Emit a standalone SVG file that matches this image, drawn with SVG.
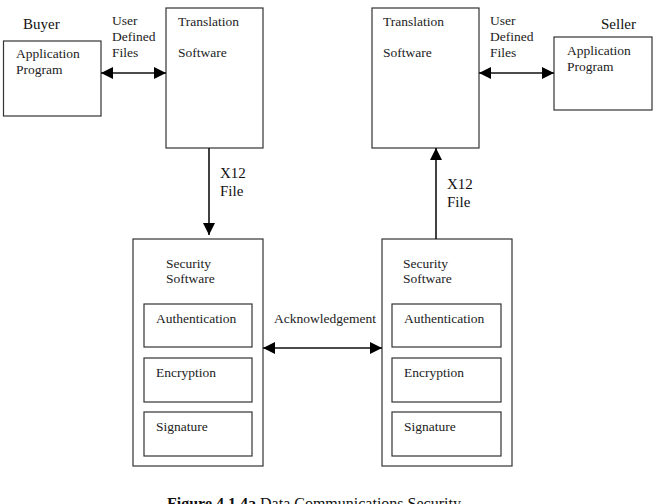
<svg xmlns="http://www.w3.org/2000/svg" width="660" height="504" viewBox="0 0 660 504">
<style>
.box{fill:#fff;stroke:#333;stroke-width:1.2}
.t{font-family:"Liberation Serif","Times New Roman",serif;font-size:13.5px;fill:#222}
.tl{font-family:"Liberation Serif","Times New Roman",serif;font-size:15px;fill:#111}
.c{stroke:#111;stroke-width:1.6;fill:none}
</style>
<defs>
<marker id="ah" viewBox="0 0 12 12" refX="12" refY="6" markerWidth="12" markerHeight="12" markerUnits="userSpaceOnUse" orient="auto-start-reverse">
<path d="M0,0 L12,6 L0,12 Z" fill="#000"/>
</marker>
</defs>
<rect width="660" height="504" fill="#fff"/>
<text class="tl" x="23" y="29">Buyer</text>
<text class="tl" x="601" y="29">Seller</text>
<g id="buyer-app">
<rect class="box" x="3.5" y="41" width="97.5" height="75"/>
<text class="t" x="16" y="58">Application</text>
<text class="t" x="16" y="74">Program</text>
</g>
<g id="buyer-translation">
<rect class="box" x="166" y="8" width="97" height="140"/>
<text class="t" x="178" y="26">Translation</text>
<text class="t" x="178" y="57">Software</text>
</g>
<g id="seller-translation">
<rect class="box" x="372" y="8" width="107" height="140"/>
<text class="t" x="383" y="26">Translation</text>
<text class="t" x="383" y="57">Software</text>
</g>
<g id="seller-app">
<rect class="box" x="554" y="37" width="98" height="73"/>
<text class="t" x="567" y="55">Application</text>
<text class="t" x="567" y="71">Program</text>
</g>
<g id="buyer-security">
<rect class="box" x="133" y="239" width="130" height="227"/>
<text class="t" x="166" y="268">Security</text>
<text class="t" x="166" y="283">Software</text>
<g id="buyer-auth"><rect class="box" x="144" y="304" width="108" height="43"/><text class="t" x="156" y="323">Authentication</text></g>
<g id="buyer-enc"><rect class="box" x="144" y="358" width="108" height="44"/><text class="t" x="156" y="377">Encryption</text></g>
<g id="buyer-sig"><rect class="box" x="144" y="412" width="108" height="44"/><text class="t" x="156" y="431">Signature</text></g>
</g>
<g id="seller-security">
<rect class="box" x="382" y="239" width="130" height="227"/>
<text class="t" x="403" y="268">Security</text>
<text class="t" x="403" y="283">Software</text>
<g id="seller-auth"><rect class="box" x="392" y="304" width="109" height="43"/><text class="t" x="404" y="323">Authentication</text></g>
<g id="seller-enc"><rect class="box" x="392" y="358" width="109" height="44"/><text class="t" x="404" y="377">Encryption</text></g>
<g id="seller-sig"><rect class="box" x="392" y="412" width="109" height="44"/><text class="t" x="404" y="431">Signature</text></g>
</g>
<g id="connectors">
<line class="c" x1="101" y1="73" x2="166" y2="73" marker-start="url(#ah)" marker-end="url(#ah)"/>
<line class="c" x1="479" y1="73" x2="554" y2="73" marker-start="url(#ah)" marker-end="url(#ah)"/>
<line class="c" x1="209" y1="148" x2="209" y2="235" marker-end="url(#ah)"/>
<line class="c" x1="436" y1="239" x2="436" y2="148" marker-end="url(#ah)"/>
<line class="c" x1="263" y1="348" x2="382" y2="348" marker-start="url(#ah)" marker-end="url(#ah)"/>
<text class="t" x="112" y="25">User</text>
<text class="t" x="112" y="41">Defined</text>
<text class="t" x="112" y="57">Files</text>
<text class="t" x="490" y="25">User</text>
<text class="t" x="490" y="41">Defined</text>
<text class="t" x="490" y="57">Files</text>
<text class="tl" x="220" y="178">X12</text>
<text class="tl" x="220" y="196">File</text>
<text class="tl" x="447" y="189">X12</text>
<text class="tl" x="447" y="207">File</text>
<text class="t" x="274" y="323">Acknowledgement</text>
</g>
<text x="167" y="509" style="font-family:'Liberation Serif','Times New Roman',serif;font-size:16px;fill:#111"><tspan font-weight="bold">Figure 4.1.4a</tspan>  Data Communications Security</text>
</svg>
